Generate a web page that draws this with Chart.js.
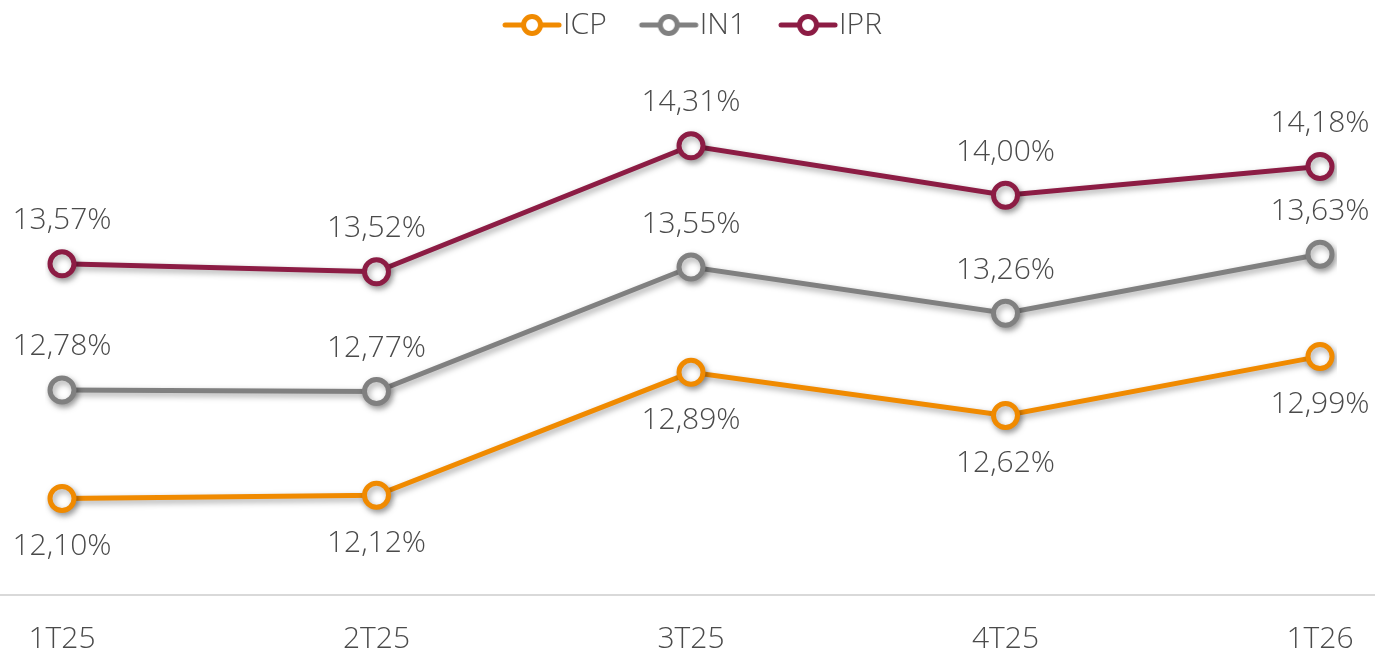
<!DOCTYPE html>
<html lang="pt">
<head>
    <meta charset="UTF-8">
    <title>ICP / IN1 / IPR</title>
    <script src="https://cdn.jsdelivr.net/npm/chart.js"></script>
    <style>
        html, body { margin: 0; padding: 0; background: #fff; }
        .chart-container { width: 1375px; height: 649px; position: relative; }
    </style>
</head>
<body>
    <div class="chart-container">
        <canvas id="lineChart"></canvas>
    </div>

    <script>
        const quarters = ['1T25', '2T25', '3T25', '4T25', '1T26'];
        const icp = [12.10, 12.12, 12.89, 12.62, 12.99];
        const in1 = [12.78, 12.77, 13.55, 13.26, 13.63];
        const ipr = [13.57, 13.52, 14.31, 14.00, 14.18];

        const FONT = "'Open Sans', sans-serif";
        const TEXT = '#4a4a4a';
        const FSIZE = 30;

        // line + ring marker, drawn right of centre so the text sits close to it
        function legendIcon(color) {
            const c = document.createElement('canvas');
            c.width = 90; c.height = 26;
            const g = c.getContext('2d');
            g.strokeStyle = color;
            g.lineWidth = 5;
            g.lineCap = 'round';
            g.beginPath(); g.moveTo(26, 13); g.lineTo(80, 13); g.stroke();
            g.fillStyle = '#fff';
            g.beginPath(); g.arc(53, 13, 8.5, 0, Math.PI * 2); g.fill(); g.stroke();
            return c;
        }

        function series(label, data, color, below) {
            return {
                label: label,
                data: data,
                borderColor: color,
                backgroundColor: '#fff',
                borderWidth: 5,
                pointStyle: 'circle',
                pointRadius: 12,
                pointBorderWidth: 5,
                pointBackgroundColor: '#fff',
                pointBorderColor: color,
                legendIcon: legendIcon(color),
                labelBelow: below,
                tension: 0
            };
        }

        // shadow under lines + points
        const shadowPlugin = {
            id: 'shadow',
            beforeDatasetsDraw(chart) {
                const ctx = chart.ctx;
                ctx.save();
                ctx.shadowColor = 'rgba(0,0,0,0.35)';
                ctx.shadowBlur = 6;
                ctx.shadowOffsetX = 2;
                ctx.shadowOffsetY = 3;
            },
            afterDatasetsDraw(chart) {
                chart.ctx.restore();
            }
        };

        // value labels + full-width base line
        const labelsPlugin = {
            id: 'valueLabels',
            afterDraw(chart) {
                const ctx = chart.ctx;
                ctx.save();
                ctx.strokeStyle = '#d9d9d9';
                ctx.lineWidth = 2;
                ctx.beginPath();
                ctx.moveTo(0, chart.chartArea.bottom);
                ctx.lineTo(chart.width, chart.chartArea.bottom);
                ctx.stroke();

                ctx.font = '300 ' + FSIZE + 'px ' + FONT;
                ctx.fillStyle = TEXT;
                ctx.textAlign = 'center';
                ctx.textBaseline = 'middle';
                chart.data.datasets.forEach((ds, i) => {
                    const meta = chart.getDatasetMeta(i);
                    meta.data.forEach((pt, j) => {
                        const txt = ds.data[j].toFixed(2).replace('.', ',') + '%';
                        const y = ds.labelBelow ? pt.y + 48 : pt.y - 43;
                        ctx.fillText(txt, pt.x, y);
                    });
                });
                ctx.restore();
            }
        };

        const ctx = document.getElementById('lineChart').getContext('2d');
        new Chart(ctx, {
            type: 'line',
            data: {
                labels: quarters,
                datasets: [
                    series('ICP', icp, '#F08A00', true),
                    series('IN1', in1, '#808080', false),
                    series('IPR', ipr, '#8C1C44', false)
                ]
            },
            options: {
                responsive: true,
                maintainAspectRatio: false,
                animation: false,
                layout: { padding: { left: 62, right: 55, top: 0, bottom: 0 } },
                plugins: {
                    legend: {
                        position: 'top',
                        labels: {
                            usePointStyle: true,
                            pointStyleWidth: 48,
                            boxHeight: 26,
                            padding: 10,
                            color: TEXT,
                            font: { family: FONT, size: FSIZE, weight: '300' },
                            generateLabels(chart) {
                                const items = Chart.defaults.plugins.legend.labels.generateLabels(chart);
                                items.forEach((it, k) => {
                                    it.pointStyle = chart.data.datasets[it.datasetIndex].legendIcon;
                                    if (k < items.length - 1) it.text = it.text + '\u2002\u2009';
                                });
                                return items;
                            }
                        }
                    },
                    tooltip: { enabled: false }
                },
                scales: {
                    x: {
                        offset: false,
                        grid: { display: false, drawTicks: false },
                        border: { display: false },
                        ticks: {
                            color: TEXT,
                            padding: 26,
                            font: { family: FONT, size: FSIZE, weight: '300' }
                        },
                        afterFit(scale) {
                            scale.height = 54;
                            scale.paddingLeft = 0;
                            scale.paddingRight = 0;
                        }
                    },
                    y: {
                        display: false,
                        min: 11.495,
                        max: 14.91
                    }
                }
            },
            plugins: [shadowPlugin, labelsPlugin]
        });
    </script>
</body>
</html>
